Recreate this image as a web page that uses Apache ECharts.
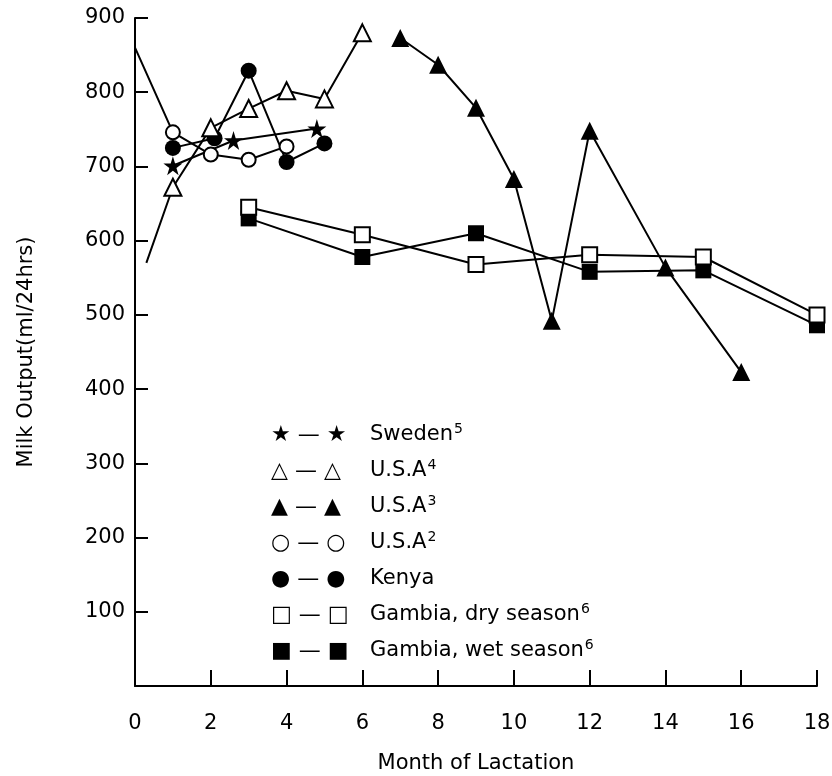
<!DOCTYPE html>
<html>
<head>
<meta charset="utf-8">
<script src="https://cdn.jsdelivr.net/npm/echarts@6/dist/echarts.min.js"></script>
<style>
html,body{margin:0;padding:0;background:#fff;}
#chart{width:832px;height:776px;}
</style>
</head>
<body>
<div id="chart"></div>
<script>
// ---- data (month, ml/24hrs) ----
const sweden   = [[1,701],[2.6,735],[4.8,751]];
const usa4     = [[0.3,570],[1,672],[2,752],[3,778],[4,802],[5,791],[6,880]];
const usa3     = [[7,873],[8,837],[9,779],[10,683],[11,492],[12,748],[14,564],[16,423]];
const usa2     = [[0,860],[1,746],[2,716],[3,709],[4,727]];
const kenya    = [[1,725],[2.1,738],[3,829],[4,706],[5,731]];
const gambiaDry = [[3,645],[6,608],[9,568],[12,581],[15,578],[18,500]];
const gambiaWet = [[3,630],[6,578],[9,610],[12,558],[15,560],[18,486]];
// points drawn without a marker (line start only)
const unmarked = { usa4: [0], usa2: [0] };

const xTicks = [0,2,4,6,8,10,12,14,16,18];
const yTicks = [100,200,300,400,500,600,700,800,900];

const legendNames = ['Sweden','U.S.A','U.S.A','U.S.A','Kenya','Gambia, dry season','Gambia, wet season'];
const legendSups  = ['5','4','3','2','','6','6'];
const legendIcons = ['★','△','▲','○','●','□','■'];

const FONT = 'DejaVu Sans';
const STAR = 'path://M50,0 L61,35 L98,35 L68,57 L79,91 L50,70 L21,91 L32,57 L2,35 L39,35 Z';

function mk(data, key, symbol, size, filled) {
  const skip = unmarked[key] || [];
  return {
    type: 'line',
    data: data.map((p, i) => skip.includes(i) ? { value: p, symbol: 'none' } : { value: p }),
    symbol: symbol,
    symbolSize: size,
    showAllSymbol: true,
    lineStyle: { color: '#000', width: 2 },
    itemStyle: { color: filled ? '#000' : '#fff', borderColor: '#000', borderWidth: filled ? 0 : 2 },
    z: filled ? 3 : 4,
    animation: false
  };
}

const series = [
  mk(sweden, 'sweden', STAR, 19, true),
  mk(usa4, 'usa4', 'triangle', 17, false),
  mk(usa3, 'usa3', 'triangle', 18, true),
  mk(usa2, 'usa2', 'circle', 14, false),
  mk(kenya, 'kenya', 'circle', 16, true),
  mk(gambiaDry, 'dry', 'rect', 15, false),
  mk(gambiaWet, 'wet', 'rect', 16, true)
];

// legend built as text graphics
const graphic = [];
const legTop = 435, legStep = 36;
legendNames.forEach((name, i) => {
  const y = legTop + i * legStep;
  graphic.push({
    type: 'text', x: 271, y: y,
    style: { text: legendIcons[i] + ' — ' + legendIcons[i], font: '22px "' + FONT + '"', fill: '#000',
             align: 'left', verticalAlign: 'middle' }
  });
  graphic.push({
    type: 'text', x: 370, y: y,
    style: {
      text: '{a|' + name + '}' + (legendSups[i] ? '{s|' + legendSups[i] + '}' : ''),
      align: 'left', verticalAlign: 'middle',
      rich: {
        a: { fontFamily: FONT, fontSize: 21, lineHeight: 26, fill: '#000', color: '#000', verticalAlign: 'middle' },
        s: { fontFamily: FONT, fontSize: 14, lineHeight: 26, fill: '#000', color: '#000', verticalAlign: 'top', padding: [0, 0, 8, 1] }
      }
    }
  });
});

const chart = echarts.init(document.getElementById('chart'), null, { renderer: 'canvas' });
chart.setOption({
  animation: false,
  backgroundColor: '#fff',
  grid: { left: 135, right: 15, top: 18, bottom: 90, containLabel: false, outerBoundsMode: 'none' },
  xAxis: {
    type: 'value', min: 0, max: 18, interval: 2,
    name: 'Month of Lactation', nameLocation: 'middle', nameGap: 67,
    nameTextStyle: { fontFamily: FONT, fontSize: 21, color: '#000' },
    axisLine: { lineStyle: { color: '#000', width: 2 } },
    axisTick: { inside: true, length: 16, lineStyle: { color: '#000', width: 2 } },
    axisLabel: { fontFamily: FONT, fontSize: 21, color: '#000', margin: 27,
      formatter: v => xTicks.includes(v) ? String(v) : '' },
    splitLine: { show: false }
  },
  yAxis: {
    type: 'value', min: 0, max: 900, interval: 100,
    name: 'Milk Output(ml/24hrs)', nameLocation: 'middle', nameGap: 98, nameRotate: 90,
    nameTextStyle: { fontFamily: FONT, fontSize: 21, color: '#000' },
    axisLine: { lineStyle: { color: '#000', width: 2 } },
    axisTick: { inside: true, length: 13, lineStyle: { color: '#000', width: 2 } },
    axisLabel: { fontFamily: FONT, fontSize: 21, color: '#000', margin: 10,
      formatter: v => yTicks.includes(v) ? String(v) : '' },
    splitLine: { show: false }
  },
  series: series,
  graphic: graphic
});
</script>
</body>
</html>
